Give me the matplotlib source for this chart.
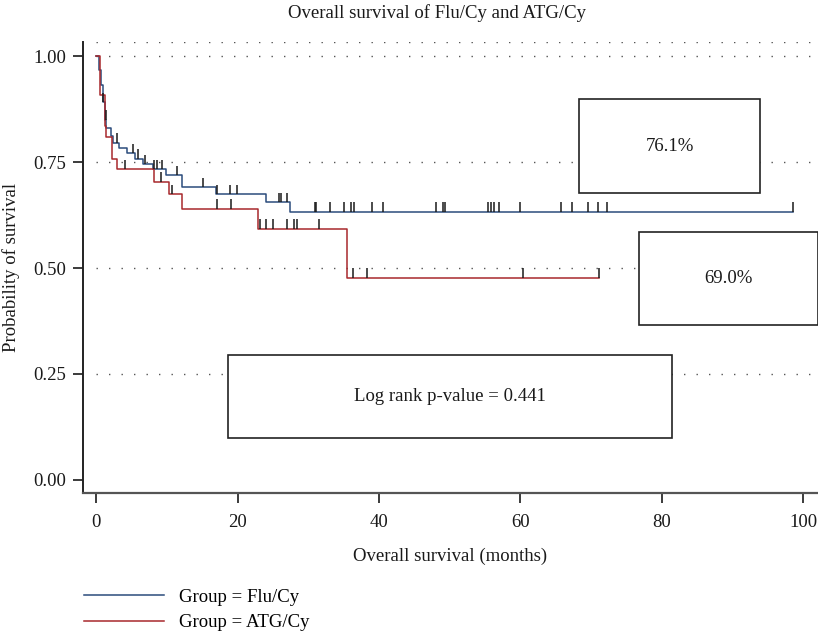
import matplotlib
matplotlib.use("Agg")
import matplotlib.pyplot as plt
import numpy as np
from matplotlib.patches import Rectangle

plt.rcParams["font.family"] = ["Liberation Serif", "DejaVu Serif"]

# Kaplan-Meier steps (months, survival)
flu_times = [0, 0.3, 0.7, 1.0, 1.2, 1.4, 2.0, 2.4, 3.2, 4.3, 5.5, 6.6, 8.0, 9.8, 12.1, 16.9, 24.0, 27.4, 98.5]
flu_surv = [1.0, 0.968, 0.933, 0.891, 0.85, 0.83, 0.811, 0.796, 0.784, 0.771, 0.758, 0.745, 0.733, 0.719,
            0.691, 0.675, 0.655, 0.633, 0.633]
flu_censored = [1.0, 1.3, 2.95, 5.2, 5.9, 6.9, 8.15, 8.6, 9.3, 11.45, 15.1, 17.0, 18.9, 19.9, 25.9, 26.15,
                27.0, 30.9, 31.1, 33.1, 35.1, 36.0, 36.5, 39.0, 40.5, 48.1, 49.0, 49.3, 55.4, 55.8, 56.3,
                57.0, 60.0, 65.8, 67.3, 69.5, 71.0, 72.2, 98.5]

atg_times = [0, 0.5, 1.2, 1.4, 2.15, 2.95, 8.15, 10.3, 12.1, 22.9, 35.4, 71.1]
atg_surv = [1.0, 0.908, 0.834, 0.808, 0.758, 0.733, 0.704, 0.674, 0.640, 0.593, 0.477, 0.477]
atg_censored = [4.1, 9.15, 10.65, 17.1, 19.1, 23.1, 24.0, 25.0, 27.0, 28.0, 28.4, 31.5, 36.3, 38.3,
                60.4, 71.1]

group_labels = ["Group = Flu/Cy", "Group = ATG/Cy"]
y_ticks = [0.0, 0.25, 0.50, 0.75, 1.00]
x_ticks = [0, 20, 40, 60, 80, 100]
flu_rate = "76.1%"
atg_rate = "69.0%"
logrank_text = "Log rank p-value = 0.441"

BLUE = "#2b4b7c"
RED = "#a8282c"
FS = 13.5

XLIM = (-1.9, 102.1)
YLIM = (-0.0315, 1.034)


def step_value(times, surv, t):
    idx = np.searchsorted(times, t, side="right") - 1
    return np.asarray(surv)[idx]


fig = plt.figure(figsize=(8.18, 6.38), dpi=100)
ax = fig.add_axes([83 / 818, 1 - 493.3 / 638, 1 - 83 / 818, (493.3 - 41.7) / 638])
ax.set_xlim(*XLIM)
ax.set_ylim(*YLIM)

# dotted reference lines
for y in [YLIM[1]] + y_ticks[1:]:
    ax.hlines(y, 0, XLIM[1], colors="#555555", linewidth=1.0, linestyles=(0, (1, 8)), zorder=1)

handles = []
for times, surv, cens, color in [
    (flu_times, flu_surv, flu_censored, BLUE),
    (atg_times, atg_surv, atg_censored, RED),
]:
    (line,) = ax.step(times, surv, where="post", color=color, linewidth=1.1, zorder=3)
    handles.append(line)
    cy = step_value(times, surv, np.array(cens))
    ax.vlines(cens, cy, cy + 0.022, colors="#1a1a1a", linewidth=1.1, zorder=4)

# annotation boxes
boxes = [
    (68.3, 0.677, 93.9, 0.898, flu_rate),
    (76.8, 0.3645, 102.1, 0.585, atg_rate),
    (18.6, 0.099, 81.5, 0.2937, logrank_text),
]
for x0, y0, x1, y1, txt in boxes:
    ax.add_patch(Rectangle((x0, y0), x1 - x0, y1 - y0, facecolor="white",
                           edgecolor="#222222", linewidth=1.2, zorder=5))
    ax.text((x0 + x1) / 2, (y0 + y1) / 2, txt, ha="center", va="center",
            fontsize=FS, color="#1a1a1a", zorder=6)

ax.spines["top"].set_visible(False)
ax.spines["right"].set_visible(False)
ax.spines["left"].set_linewidth(1.4)
ax.spines["left"].set_color("#222222")
ax.spines["bottom"].set_linewidth(1.6)
ax.spines["bottom"].set_color("#555555")

ax.set_xticks(x_ticks)
ax.set_yticks(y_ticks)
ax.set_yticklabels([f"{v:.2f}" for v in y_ticks])
ax.tick_params(axis="both", labelsize=FS, colors="#1a1a1a", length=7, width=1.2, pad=5)
ax.tick_params(axis="x", pad=8)

ax.set_xlabel("Overall survival (months)", fontsize=FS, color="#1a1a1a", labelpad=12)
ax.set_ylabel("Probability of survival", fontsize=FS, color="#1a1a1a", labelpad=10)
fig.text(437 / 818, 1 - 13 / 638, "Overall survival of Flu/Cy and ATG/Cy",
         ha="center", va="center", fontsize=FS, color="#1a1a1a")

fig.legend(handles, group_labels, loc="upper left", bbox_to_anchor=(78 / 818, 1 - 583 / 638),
           frameon=False, fontsize=FS, handlelength=4.3, handletextpad=0.8, labelspacing=0.45,
           borderaxespad=0.0, borderpad=0.3)

fig.savefig("out.png", dpi=100)
